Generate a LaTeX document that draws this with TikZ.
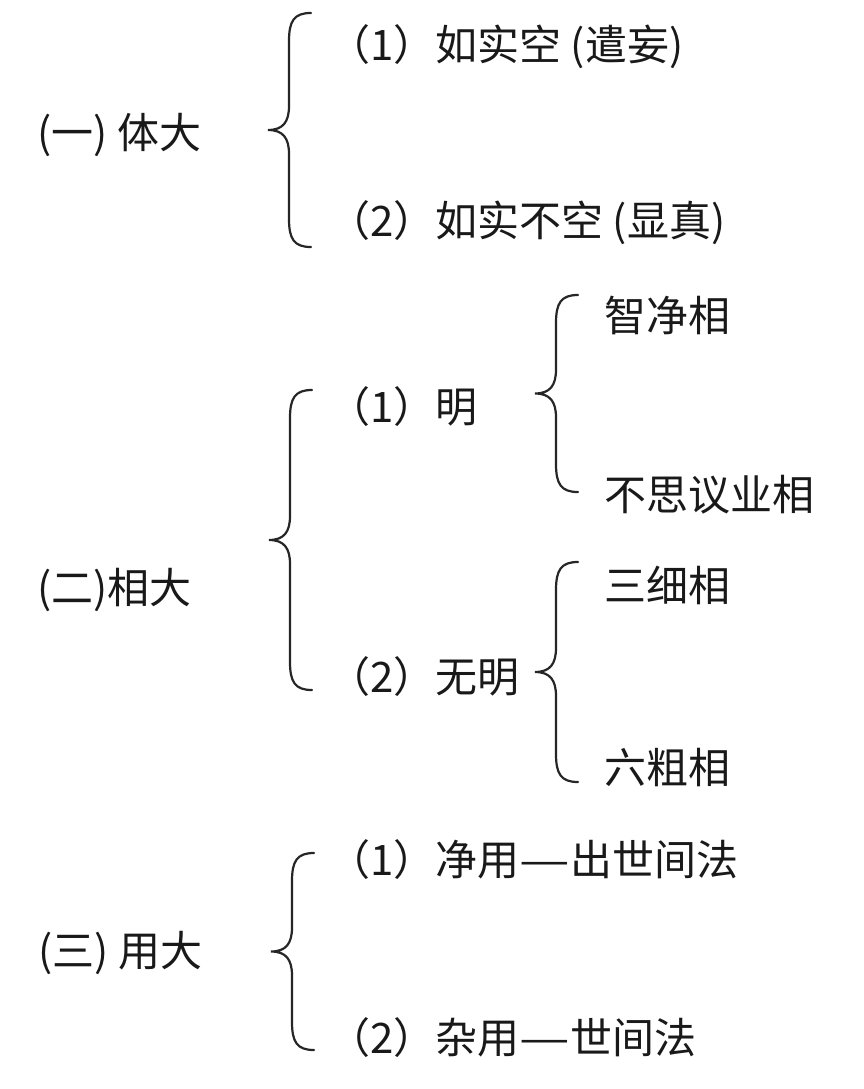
\documentclass[tikz,border=0pt]{standalone}
\usepackage{fontspec}
\usepackage{graphicx}
\newfontfamily\cjk{Noto Sans CJK SC}
\newcommand\longdash{\scalebox{1.35}[1]{—}}
\newcommand\mybrace[4]{% name, line x, top y, bottom y
  \pgfmathsetmacro\bm{(#3+#4)/2}%
  \draw[bracestyle] ({#2+22},#3) .. controls ({#2+5},#3) and (#2,{#3+8}) .. (#2,{#3+28})
    -- (#2,{\bm-24}) .. controls (#2,{\bm-8}) and ({#2-6},\bm) .. ({#2-21},\bm)
    coordinate (#1)
    .. controls ({#2-6},\bm) and (#2,{\bm+8}) .. (#2,{\bm+24})
    -- (#2,{#4-28}) .. controls (#2,{#4-8}) and ({#2+5},#4) .. ({#2+22},#4);}
\begin{document}
\begin{tikzpicture}[x=1pt,y=-1pt,
  txt/.style={anchor=west,inner sep=0pt,font=\cjk\fontsize{42}{50}\selectfont,text=black!90},
  bracestyle/.style={line width=2.2pt,draw=black!85,line cap=round}]
\useasboundingbox[fill=white] (0,0) rectangle (864,1089);
% section 1
\node[txt] (n1) at (37,135) {(一) 体大};
\node[txt] (n11) at (328,47) {（1）如实空 (遣妄)};
\node[txt] (n12) at (328,223) {（2）如实不空 (显真)};
\mybrace{b1}{289}{13}{247}
% section 2
\node[txt] (n2) at (37,590) {(二)相大};
\node[txt] (n21) at (328,407) {（1）明};
\node[txt] (n22) at (328,677) {（2）无明};
\mybrace{b2}{290}{390}{690}
\node[txt] (n211) at (604,315) {智净相};
\node[txt] (n212) at (604,495) {不思议业相};
\mybrace{b21}{556}{295}{492}
\node[txt] (n221) at (604,585) {三细相};
\node[txt] (n222) at (604,768) {六粗相};
\mybrace{b22}{556}{562}{782}
% section 3
\node[txt] (n3) at (38,953) {(三) 用大};
\node[txt] (n31) at (328,860) {（1）净用\longdash 出世间法};
\node[txt] (n32) at (328,1038) {（2）杂用\longdash 世间法};
\mybrace{b3}{292}{853}{1050}
\end{tikzpicture}
\end{document}
